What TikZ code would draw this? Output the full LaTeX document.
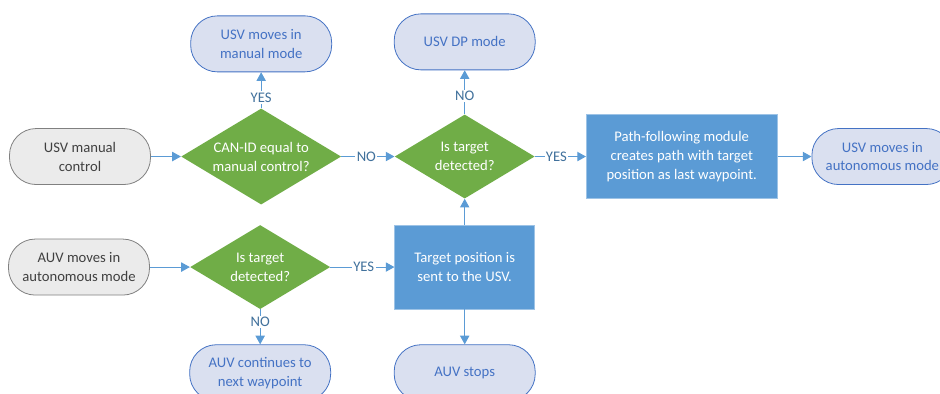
\documentclass[tikz,border=0pt]{standalone}
\usepackage{fontspec}
\setmainfont{Carlito}
\usetikzlibrary{arrows.meta,positioning,shapes.geometric}
\definecolor{sfill}{HTML}{EBEBEB}
\definecolor{sline}{HTML}{808080}
\definecolor{stext}{HTML}{404040}
\definecolor{tfill}{HTML}{DAE0F0}
\definecolor{tblue}{HTML}{4472C4}
\definecolor{dgreen}{HTML}{70AD47}
\definecolor{pblue}{HTML}{5B9BD5}
\definecolor{lblue}{HTML}{41719C}

\begin{document}
\begin{tikzpicture}[
  font=\fontsize{11}{14.2}\selectfont,
  base/.style={align=center, inner sep=2pt},
  term/.style={base, draw=tblue, fill=tfill, text=tblue, rounded corners=20pt, minimum width=105.75pt, minimum height=42pt, line width=0.6pt},
  start/.style={term, draw=sline, fill=sfill, text=stext},
  dec/.style={base, diamond, aspect=1.67, fill=dgreen, text=white, inner sep=0pt, minimum width=105pt, minimum height=63pt},
  proc/.style={base, fill=pblue, draw=pblue!60!white, text=white, minimum width=105pt, minimum height=63pt},
  arrow/.style={-{Triangle[length=6.5pt,width=7pt]}, draw=pblue, line width=0.75pt},
  lbl/.style={fill=white, text=lblue, inner sep=1pt}
]
% page frame (picture is cut at the right and bottom edge)
\clip (-60pt,-178pt) rectangle (645pt,117.4pt);
% upper row: USV
\node[start] (usvman) at (0,0) {USV manual\\control};
\node[dec, right=22.5pt of usvman, minimum width=120pt, minimum height=72pt] (cand) {CAN-ID equal to\\manual control?};
\node[dec, right=39.75pt of cand] (isdet) {Is target\\detected?};
\node[proc, right=38.25pt of isdet, minimum width=143.25pt] (pathmod) {Path-following module\\creates path with target\\position as last waypoint.};
\node[term, right=25.5pt of pathmod] (usvauto) {USV moves in\\autonomous mode};
\node[term, above=27pt of cand] (usvmanmode) {USV moves in\\manual mode};
\node[term, above=33pt of isdet] (dp) {USV DP mode};
% lower row: AUV
\node[proc, below=19.5pt of isdet] (sent) {Target position is\\sent to the USV.};
\node[dec, left=48pt of sent] (auvdet) {Is target\\detected?};
\node[start, left=30pt of auvdet] (auv) {AUV moves in\\autonomous mode};
\node[term, below=26.25pt of auvdet] (cont) {AUV continues to\\next waypoint};
\node[term, below=26.25pt of sent] (stops) {AUV stops};
% arrows
\draw[arrow] (usvman) -- (cand);
\draw[arrow] (cand) -- node[lbl, pos=.3]{YES} (usvmanmode);
\draw[arrow] (cand) -- node[lbl, pos=.47]{NO} (isdet);
\draw[arrow] (isdet) -- node[lbl, pos=.41]{NO} (dp);
\draw[arrow] (isdet) -- node[lbl, pos=.42]{YES} (pathmod);
\draw[arrow] (pathmod) -- (usvauto);
\draw[arrow] (auv) -- (auvdet);
\draw[arrow] (auvdet) -- node[lbl, pos=.52]{YES} (sent);
\draw[arrow] (auvdet) -- node[lbl, pos=.37]{NO} (cont);
\draw[arrow] (sent) -- (isdet);
\draw[arrow] (sent) -- (stops);
\end{tikzpicture}
\end{document}
